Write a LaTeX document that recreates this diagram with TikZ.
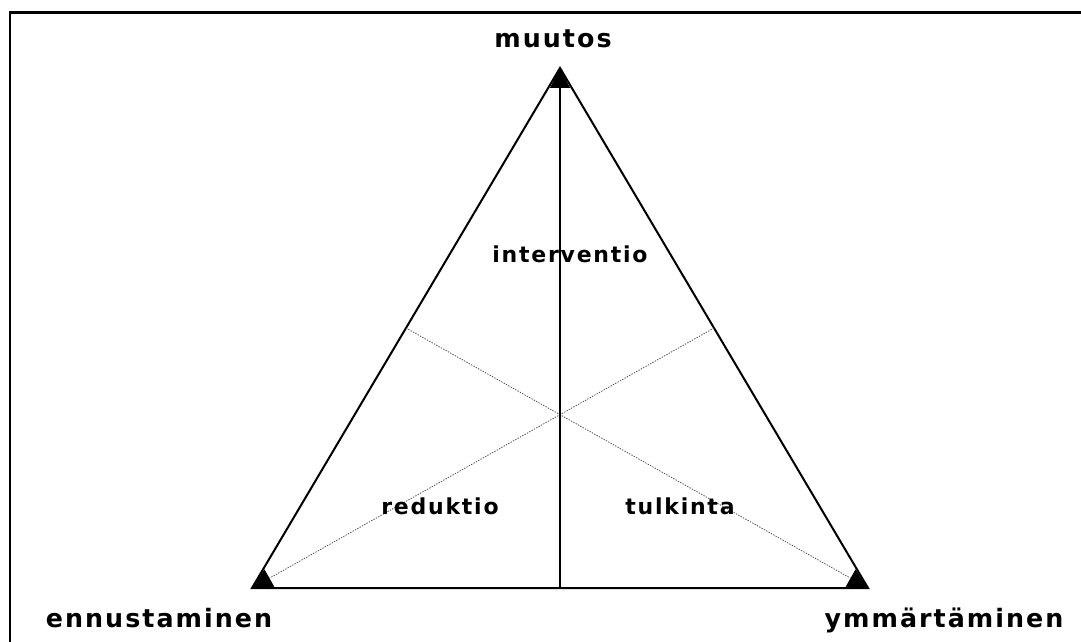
\documentclass[tikz,border=0pt]{standalone}
\usepackage{fontspec}
\newfontfamily\lblfont[LetterSpace=8]{DejaVu Sans}
\usetikzlibrary{arrows.meta,calc}

\begin{document}
\begin{tikzpicture}[
  x=0.75pt, y=-0.75pt,
  >={Triangle[length=15pt,width=15pt,color=black,fill=black]},
  corner/.style={font=\lblfont\bfseries\fontsize{19}{22}\selectfont,
              anchor=base, inner sep=0pt},
  inside/.style={font=\lblfont\bfseries\fontsize{16.5}{20}\selectfont,
              anchor=base, inner sep=0pt},
  side/.style={line width=1.5pt},
  median/.style={->, line width=0.6pt, black!70,
              dash pattern=on 1pt off 1pt},
  axis/.style={->, line width=0.8pt},
]
\useasboundingbox (0,0) rectangle (1081,642);

% frame
\draw[line width=2pt] (10,642) -- (10,12.5) -- (1081,12.5);

\coordinate (muu) at (560,68);
\coordinate (enn) at (252,588);
\coordinate (ymm) at (868,588);
\coordinate (base) at ($(enn)!0.5!(ymm)$);
\coordinate (rmid) at ($(muu)!0.5!(ymm)$);
\coordinate (lmid) at ($(muu)!0.5!(enn)$);

\draw[side] (muu) -- (ymm) -- (enn) -- cycle;

\draw[median] (rmid) -- (enn);
\draw[median] (lmid) -- (ymm);
\draw[axis] (base) -- (muu);

\node[corner] (muutos) at (553,48) {muutos};
\node[corner] (ennus) at (159,627) {ennustaminen};
\node[corner] (ymmar) at (944,627) {ymmärtäminen};

\node[inside] (interv) at (570,262) {interventio};
\node[inside] (redukt) at (440,514) {reduktio};
\node[inside] (tulk) at (680,514) {tulkinta};

\end{tikzpicture}
\end{document}
